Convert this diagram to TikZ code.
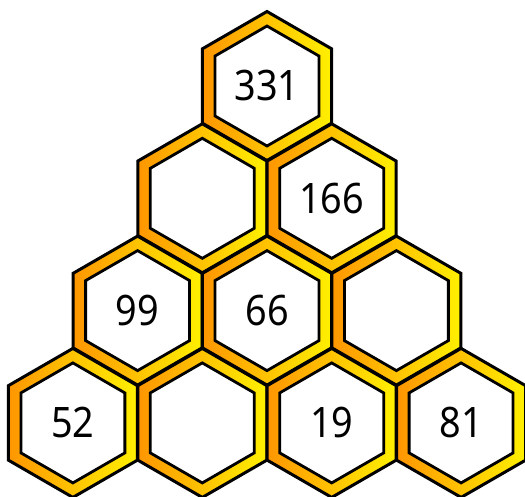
\documentclass[tikz,border=0pt]{standalone}
\usepackage{fontspec}
\setmainfont{Noto Sans}
\newfontfamily\numfont[FakeStretch=0.9]{Noto Sans}
\usepackage{xcolor}
\usepackage{tikz}
\usetikzlibrary{shapes.geometric}

\definecolor{hexleft}{RGB}{255,150,0}
\definecolor{hexright}{RGB}{255,240,0}

\begin{document}
\begin{tikzpicture}[x=1pt, y=-1pt,
  hexout/.style={regular polygon, regular polygon sides=6, shape border rotate=30,
    minimum size=149pt, inner sep=0pt, draw, line width=3pt,
    left color=hexleft, right color=hexright},
  hexin/.style={regular polygon, regular polygon sides=6, shape border rotate=30,
    minimum size=120pt, inner sep=0pt, draw, line width=2.8pt, fill=white,
    font=\numfont\fontsize{42}{44}\selectfont}]
  \useasboundingbox (0,0) rectangle (525,496);
  % honeycomb pyramid, row by row from the top
  \foreach \r/\i/\v in {0/0/331,
                        1/0/{}, 1/1/166,
                        2/0/99, 2/1/66, 2/2/{},
                        3/0/52, 3/1/{}, 3/2/19, 3/3/81}{
    \node[hexout] (o\r\i) at ({267+(\i-\r/2)*129.4}, {86+\r*112.3}) {};
    \node[hexin]  (n\r\i) at (o\r\i) {\v};
  }
\end{tikzpicture}
\end{document}
